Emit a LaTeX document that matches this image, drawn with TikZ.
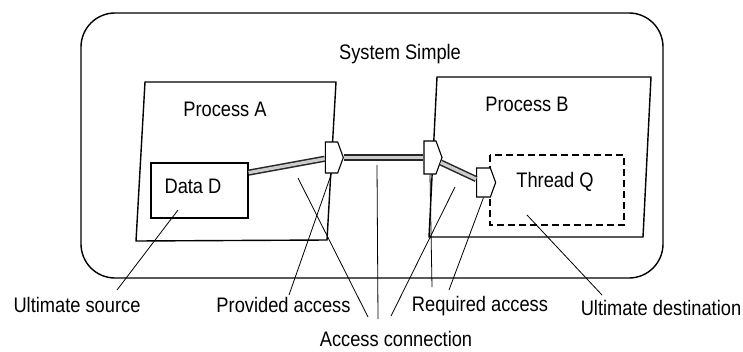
\documentclass[tikz,border=0pt]{standalone}
\usepackage{fontspec}
\setmainfont{Liberation Sans}[FakeStretch=0.87]
\usetikzlibrary{shapes.symbols}

\tikzset{
    txt/.style={font=\fontsize{21}{25}\selectfont, inner sep=0pt, anchor=base},
    port/.style={draw, fill=white, line width=1.1pt, signal, signal to=east,
        signal pointer angle=140, minimum width=18pt, minimum height=31pt, inner sep=0pt},
    rail/.style={draw=black!85, line width=1.5pt, double=black!20, double distance=3.2pt},
    lead/.style={line width=0.8pt},
}

\begin{document}
\begin{tikzpicture}[x=1pt, y=-1pt]
            \useasboundingbox (0, 0) rectangle (743, 351);
            \fill[white] (0, 0) rectangle (743, 351);
            \draw[line width=1.4pt, rounded corners=34pt] (81, 13) rectangle (663, 278);
            \node[txt] (sys) at (400, 59) {System Simple};

            \draw[line width=1.4pt] (145, 82) -- (336, 82) -- (327, 240) -- (136, 241) -- cycle;
            \node[txt] (procA) at (225, 116) {Process A};
            \draw[line width=1.4pt] (437, 77) -- (651, 77) -- (643, 237) -- (429, 237) -- cycle;
            \node[txt] (procB) at (527, 111) {Process B};

            \node[draw, line width=1.2pt, minimum width=97pt, minimum height=55pt, inner sep=0pt] (dataD) at (199.5, 190.5) {};
            \node[txt] (dataLbl) at (193, 193) {Data D};
            \draw[line width=1.8pt, dash pattern=on 7pt off 4pt] (490, 155) rectangle (624, 225);
            \node[txt] (threadLbl) at (555, 187) {Thread Q};

            \node[port] (portA) at (331.5, 157.5) {};
            \node[port, minimum height=33pt] (portB) at (430, 157.5) {};
            \node[port, minimum width=19pt, minimum height=29pt] (portT) at (483.5, 182.5) {};

            \draw[rail] (dataD.20) -- (portA);
            \draw[rail] (portA) -- (portB);
            \draw[rail] (portB) -- (portT);

            \node[txt] (srcLbl) at (77, 312.5) {Ultimate source};
            \node[txt] (provLbl) at (283.5, 312.5) {Provided access};
            \node[txt] (reqLbl) at (480, 311.5) {Required access};
            \node[txt] (destLbl) at (661, 315) {Ultimate destination};
            \node[txt] (connLbl) at (396, 346.5) {Access connection};

            \coordinate (srcA) at (178, 210);
            \coordinate (srcB) at (117, 290);
            \coordinate (provB) at (289, 295);
            \coordinate (connA) at (298, 178);
            \coordinate (connB) at (377, 165);
            \coordinate (connC) at (455, 187);
            \coordinate (connD) at (368, 317);
            \coordinate (connE) at (378, 319);
            \coordinate (connF) at (391, 316);
            \coordinate (reqB) at (432, 287);
            \coordinate (reqC) at (449, 290);
            \coordinate (destA) at (527, 215);
            \coordinate (destB) at (602, 295);

            \draw[lead] (srcA) -- (srcB);
            \draw[lead] (portA.south) -- (provB);
            \draw[lead] (connA) -- (connD);
            \draw[lead] (connB) -- (connE);
            \draw[lead] (connC) -- (connF);
            \draw[lead] (portB.south) -- (reqB);
            \draw[lead] (portT.south) -- (reqC);
            \draw[lead] (destA) -- (destB);
        \end{tikzpicture}
\end{document}
